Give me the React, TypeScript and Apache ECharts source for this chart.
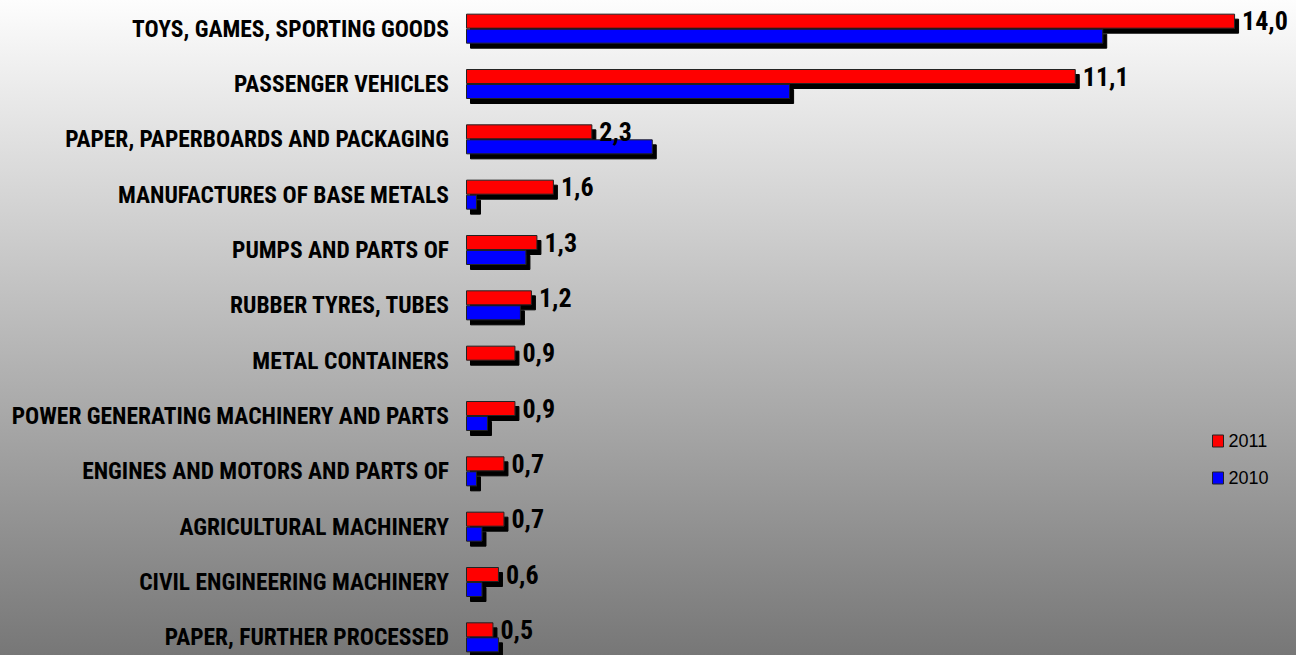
import React, { useEffect, useRef } from "react";
import * as echarts from "echarts";

const categories = [
  "TOYS, GAMES, SPORTING GOODS",
  "PASSENGER VEHICLES",
  "PAPER, PAPERBOARDS AND PACKAGING",
  "MANUFACTURES OF BASE METALS",
  "PUMPS AND PARTS OF",
  "RUBBER TYRES, TUBES",
  "METAL CONTAINERS",
  "POWER GENERATING MACHINERY AND PARTS",
  "ENGINES AND MOTORS AND PARTS OF",
  "AGRICULTURAL MACHINERY",
  "CIVIL ENGINEERING MACHINERY",
  "PAPER, FURTHER PROCESSED",
];
const values2011 = [14.0, 11.1, 2.3, 1.6, 1.3, 1.2, 0.9, 0.9, 0.7, 0.7, 0.6, 0.5];
const values2010 = [11.6, 5.9, 3.4, 0.2, 1.1, 1.0, null, 0.4, 0.2, 0.3, 0.3, 0.6];
const seriesNames = ["2011", "2010"];

const NARROW =
  '"Liberation Sans Narrow", "Arial Narrow", "Roboto Condensed", "Noto Sans Condensed", "DejaVu Sans Condensed", sans-serif';

export default function App() {
  const ref = useRef<HTMLDivElement>(null);
  useEffect(() => {
    if (!ref.current) return;
    const chart = echarts.init(ref.current, null, { renderer: "svg" });
    const shadow = {
      shadowColor: "#000",
      shadowBlur: 0,
      shadowOffsetX: 4,
      shadowOffsetY: 5,
    };
    chart.setOption({
      animation: false,
      backgroundColor: {
        type: "linear",
        x: 0,
        y: 0,
        x2: 0,
        y2: 1,
        colorStops: [
          { offset: 0, color: "#fdfdfd" },
          { offset: 1, color: "#777777" },
        ],
      },
      grid: {
        left: 466,
        width: 824,
        top: 1,
        height: 664,
        containLabel: false,
        outerBoundsMode: "none",
      },
      legend: {
        orient: "vertical",
        left: 1207,
        top: 427,
        itemWidth: 11,
        itemHeight: 12,
        itemGap: 19,
        icon: "rect",
        textStyle: { fontFamily: '"Liberation Sans", Arial, sans-serif', fontSize: 18, color: "#000" },
        itemStyle: {
          borderColor: "#222",
          borderWidth: 1,
          shadowColor: "transparent",
          shadowOffsetX: 0,
          shadowOffsetY: 0,
        },
        data: seriesNames,
      },
      xAxis: {
        type: "value",
        min: 0,
        max: 15,
        show: false,
        splitLine: { show: false },
      },
      yAxis: {
        type: "category",
        inverse: true,
        data: categories,
        axisLine: { show: false },
        axisTick: { show: false },
        axisLabel: {
          margin: 17,
          fontFamily: NARROW,
          fontWeight: "bold",
          fontSize: 23.5,
          color: "#000",
        },
      },
      series: [
        {
          name: seriesNames[0],
          type: "bar",
          data: values2011,
          barWidth: 15,
          barGap: "0%",
          itemStyle: { color: "#ff0000", borderColor: "#222", borderWidth: 1, ...shadow },
          label: {
            show: true,
            position: "right",
            distance: 7,
            fontFamily: NARROW,
            fontWeight: "bold",
            fontSize: 26,
            color: "#000",
            formatter: (p: any) => Number(p.value).toFixed(1).replace(".", ","),
          },
        },
        {
          name: seriesNames[1],
          type: "bar",
          data: values2010,
          barWidth: 15,
          barGap: "0%",
          itemStyle: { color: "#0000ff", borderColor: "#222", borderWidth: 1, ...shadow },
        },
      ],
    });
    return () => chart.dispose();
  }, []);
  return (
    <div
      ref={ref}
      style={{ position: "absolute", left: 0, top: 0, width: 1296, height: 655 }}
    />
  );
}
